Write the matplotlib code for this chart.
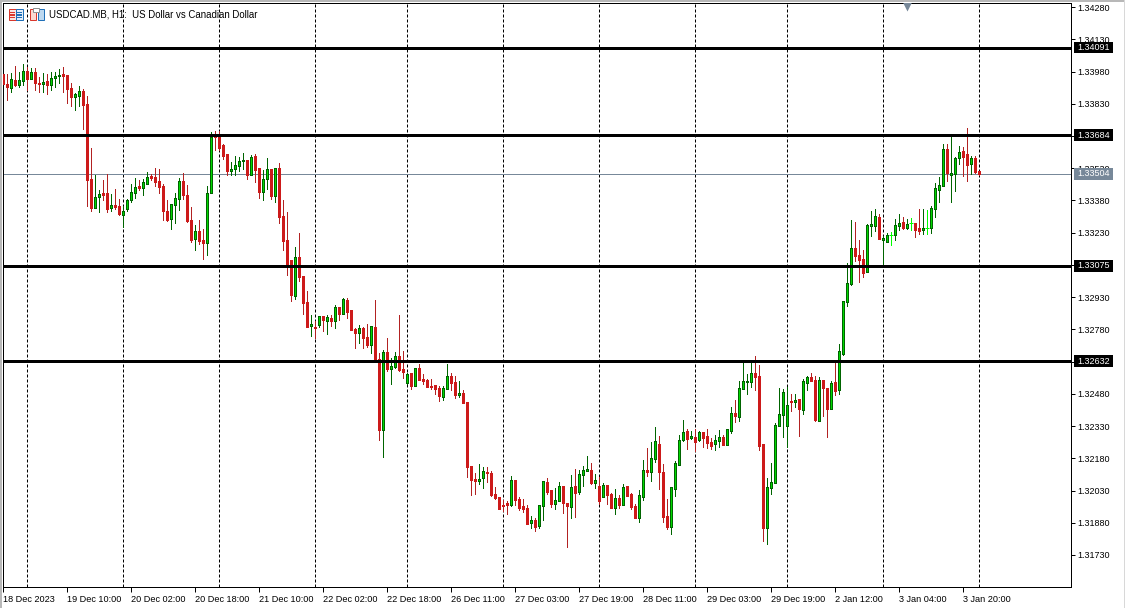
import numpy as np
import matplotlib
matplotlib.use('Agg')
import matplotlib.pyplot as plt
from matplotlib.patches import Rectangle

plt.rcParams['font.family'] = ['Liberation Sans', 'DejaVu Sans']

# H1 candles
opens = [
    1.33969,1.33923,1.33905,1.33942,1.33919,1.33937,1.33983,1.33946,1.33979,1.33928,
    1.33923,1.33937,1.33919,1.33951,1.33960,1.33969,1.33965,1.33905,1.33862,1.33867,
    1.33890,1.33830,1.33481,1.33346,1.33397,1.33416,1.33416,1.33346,1.33360,1.33355,
    1.33314,1.33341,1.33383,1.33416,1.33448,1.33439,1.33458,1.33495,1.33490,1.33472,
    1.33448,1.33332,1.33295,1.33360,1.33388,1.33472,1.33407,1.33290,1.33202,1.33239,
    1.33197,1.33183,1.33416,1.33686,1.33681,1.33639,1.33598,1.33518,1.33527,1.33542,
    1.33565,1.33569,1.33500,1.33588,1.33532,1.33420,1.33481,1.33527,1.33402,1.33532,
    1.33309,1.33197,1.33104,1.32937,1.33118,1.33030,1.32909,1.32797,1.32792,1.32802,
    1.32843,1.32820,1.32834,1.32820,1.32885,1.32852,1.32918,1.32871,1.32783,1.32764,
    1.32787,1.32746,1.32708,1.32792,1.32643,1.32313,1.32676,1.32597,1.32606,1.32657,
    1.32597,1.32532,1.32578,1.32518,1.32602,1.32550,1.32546,1.32518,1.32522,1.32509,
    1.32466,1.32504,1.32564,1.32537,1.32476,1.32485,1.32444,1.32145,1.32085,1.32076,
    1.32090,1.32118,1.32113,1.32015,1.32001,1.31964,1.31973,1.31964,1.32080,1.31992,
    1.31959,1.31950,1.31880,1.31894,1.31866,1.31959,1.32071,1.32034,1.31968,1.31982,
    1.32052,1.31973,1.31954,1.32052,1.32025,1.32104,1.32122,1.32127,1.32066,1.32052,
    1.32001,1.32057,1.32015,1.31950,1.31997,1.31964,1.32052,1.32015,1.31959,1.31903,
    1.32001,1.32127,1.32118,1.32178,1.32248,1.32118,1.31913,1.31861,1.32038,1.32150,
    1.32267,1.32308,1.32276,1.32280,1.32267,1.32304,1.32285,1.32257,1.32248,1.32262,
    1.32280,1.32243,1.32308,1.32392,1.32373,1.32504,1.32537,1.32537,1.32578,1.32564,
    1.32248,1.31857,1.32043,1.32066,1.32332,1.32383,1.32332,1.32448,1.32444,1.32458,
    1.32406,1.32532,1.32559,1.32546,1.32355,1.32546,1.32509,1.32411,1.32537,1.32499,
    1.32666,1.32909,1.32992,1.33160,1.33128,1.33109,1.33049,1.33262,1.33262,1.33304,
    1.33197,1.33188,1.33221,1.33221,1.33262,1.33281,1.33253,1.33276,1.33276,1.33253,
    1.33244,1.33253,1.33253,1.33341,1.33430,1.33448,1.33620,1.33500,1.33504,1.33579,
    1.33611,1.33598,1.33551,1.33579,1.33518]
highs = [
    1.33969,1.33969,1.33974,1.34007,1.33979,1.34016,1.34002,1.33998,1.33998,1.33955,
    1.33974,1.33969,1.33979,1.33979,1.33993,1.34002,1.33965,1.33928,1.33881,1.33914,
    1.33900,1.33867,1.33625,1.33500,1.33430,1.33476,1.33504,1.33411,1.33434,1.33388,
    1.33355,1.33388,1.33458,1.33486,1.33476,1.33481,1.33514,1.33504,1.33532,1.33527,
    1.33458,1.33383,1.33365,1.33416,1.33486,1.33509,1.33453,1.33350,1.33267,1.33290,
    1.33249,1.33448,1.33700,1.33705,1.33705,1.33644,1.33598,1.33560,1.33588,1.33583,
    1.33602,1.33569,1.33593,1.33598,1.33532,1.33523,1.33579,1.33527,1.33532,1.33555,
    1.33383,1.33328,1.33104,1.33164,1.33230,1.33030,1.32960,1.32848,1.32820,1.32843,
    1.32843,1.32848,1.32848,1.32894,1.32885,1.32927,1.32927,1.32871,1.32787,1.32802,
    1.32792,1.32806,1.32797,1.32918,1.32671,1.32685,1.32741,1.32648,1.32676,1.32848,
    1.32680,1.32578,1.32578,1.32602,1.32620,1.32574,1.32550,1.32550,1.32522,1.32518,
    1.32518,1.32620,1.32578,1.32564,1.32541,1.32499,1.32444,1.32145,1.32113,1.32155,
    1.32140,1.32140,1.32122,1.32047,1.32001,1.31987,1.31982,1.32099,1.32080,1.32001,
    1.31992,1.31964,1.31913,1.31903,1.31964,1.32076,1.32090,1.32034,1.32043,1.32071,
    1.32052,1.31973,1.32104,1.32131,1.32127,1.32145,1.32192,1.32159,1.32108,1.32094,
    1.32066,1.32057,1.32020,1.32038,1.32011,1.32061,1.32052,1.32020,1.31968,1.32034,
    1.32173,1.32229,1.32257,1.32327,1.32285,1.32155,1.31992,1.32047,1.32168,1.32290,
    1.32360,1.32318,1.32308,1.32318,1.32308,1.32304,1.32318,1.32276,1.32290,1.32313,
    1.32290,1.32318,1.32420,1.32453,1.32541,1.32625,1.32574,1.32625,1.32657,1.32616,
    1.32248,1.32090,1.32159,1.32346,1.32509,1.32504,1.32513,1.32481,1.32481,1.32458,
    1.32550,1.32564,1.32578,1.32564,1.32559,1.32546,1.32509,1.32541,1.32625,1.32713,
    1.32913,1.33090,1.33290,1.33281,1.33197,1.33151,1.33271,1.33332,1.33341,1.33318,
    1.33216,1.33230,1.33235,1.33295,1.33318,1.33304,1.33295,1.33300,1.33276,1.33341,
    1.33341,1.33337,1.33355,1.33462,1.33490,1.33644,1.33644,1.33676,1.33583,1.33635,
    1.33630,1.33719,1.33588,1.33588,1.33518]
lows = [
    1.33923,1.33849,1.33886,1.33914,1.33909,1.33919,1.33895,1.33946,1.33895,1.33886,
    1.33886,1.33876,1.33895,1.33909,1.33928,1.33886,1.33835,1.33821,1.33802,1.33821,
    1.33714,1.33355,1.33332,1.33346,1.33328,1.33383,1.33328,1.33332,1.33341,1.33314,
    1.33258,1.33332,1.33374,1.33393,1.33430,1.33407,1.33458,1.33476,1.33448,1.33416,
    1.33290,1.33285,1.33249,1.33276,1.33337,1.33388,1.33281,1.33188,1.33151,1.33179,
    1.33109,1.33128,1.33416,1.33616,1.33616,1.33574,1.33500,1.33500,1.33500,1.33518,
    1.33527,1.33481,1.33500,1.33467,1.33393,1.33383,1.33434,1.33388,1.33374,1.33276,
    1.33151,1.33035,1.32913,1.32923,1.33006,1.32852,1.32792,1.32750,1.32741,1.32792,
    1.32773,1.32760,1.32797,1.32787,1.32825,1.32852,1.32834,1.32778,1.32694,1.32718,
    1.32694,1.32699,1.32671,1.32639,1.32267,1.32187,1.32587,1.32527,1.32602,1.32587,
    1.32555,1.32527,1.32504,1.32518,1.32546,1.32527,1.32513,1.32504,1.32481,1.32448,
    1.32453,1.32504,1.32499,1.32462,1.32466,1.32439,1.32094,1.32011,1.32015,1.32061,
    1.32043,1.32071,1.32006,1.31992,1.31946,1.31936,1.31922,1.31959,1.31964,1.31941,
    1.31932,1.31875,1.31857,1.31843,1.31857,1.31894,1.32015,1.31954,1.31945,1.31982,
    1.31927,1.31768,1.31903,1.31908,1.32015,1.32052,1.32122,1.32061,1.32043,1.31968,
    1.32001,1.31968,1.31950,1.31922,1.31950,1.31964,1.32006,1.31945,1.31903,1.31885,
    1.31987,1.32099,1.32076,1.32164,1.32038,1.31885,1.31852,1.31829,1.32006,1.32150,
    1.32262,1.32225,1.32272,1.32215,1.32262,1.32234,1.32229,1.32225,1.32220,1.32234,
    1.32243,1.32243,1.32299,1.32351,1.32355,1.32504,1.32481,1.32513,1.32499,1.32220,
    1.31796,1.31782,1.32015,1.32066,1.32332,1.32280,1.32234,1.32401,1.32420,1.32285,
    1.32388,1.32499,1.32541,1.32355,1.32355,1.32378,1.32280,1.32411,1.32476,1.32481,
    1.32662,1.32890,1.32988,1.33099,1.33002,1.33025,1.33049,1.33216,1.33239,1.33202,
    1.33081,1.33188,1.33174,1.33197,1.33244,1.33248,1.33248,1.33244,1.33211,1.33225,
    1.33225,1.33225,1.33230,1.33304,1.33374,1.33448,1.33472,1.33374,1.33425,1.33551,
    1.33495,1.33472,1.33504,1.33509,1.33500]
closes = [
    1.33923,1.33909,1.33946,1.33919,1.33942,1.33983,1.33946,1.33979,1.33928,1.33923,
    1.33932,1.33919,1.33951,1.33960,1.33965,1.33960,1.33900,1.33862,1.33876,1.33890,
    1.33826,1.33476,1.33346,1.33397,1.33411,1.33407,1.33341,1.33360,1.33350,1.33318,
    1.33332,1.33383,1.33420,1.33444,1.33439,1.33467,1.33490,1.33486,1.33467,1.33444,
    1.33332,1.33290,1.33365,1.33393,1.33472,1.33407,1.33285,1.33197,1.33239,1.33193,
    1.33183,1.33416,1.33676,1.33676,1.33625,1.33588,1.33518,1.33527,1.33546,1.33565,
    1.33569,1.33500,1.33583,1.33523,1.33420,1.33481,1.33527,1.33402,1.33532,1.33304,
    1.33193,1.33076,1.32942,1.33118,1.33025,1.32904,1.32792,1.32806,1.32787,1.32843,
    1.32825,1.32839,1.32820,1.32885,1.32852,1.32923,1.32862,1.32778,1.32764,1.32787,
    1.32741,1.32708,1.32797,1.32643,1.32313,1.32676,1.32597,1.32611,1.32657,1.32592,
    1.32583,1.32574,1.32518,1.32602,1.32546,1.32541,1.32513,1.32513,1.32504,1.32471,
    1.32509,1.32564,1.32532,1.32476,1.32485,1.32439,1.32140,1.32080,1.32076,1.32085,
    1.32122,1.32113,1.32011,1.31997,1.31946,1.31959,1.31964,1.32080,1.31987,1.31950,
    1.31945,1.31875,1.31894,1.31861,1.31964,1.32076,1.32025,1.31968,1.31987,1.32052,
    1.31973,1.31959,1.32047,1.32020,1.32108,1.32127,1.32131,1.32066,1.32080,1.31982,
    1.32057,1.32011,1.31950,1.31997,1.31964,1.32047,1.32006,1.31954,1.31903,1.32011,
    1.32127,1.32118,1.32183,1.32262,1.32118,1.31908,1.31861,1.32047,1.32159,1.32267,
    1.32304,1.32272,1.32285,1.32257,1.32304,1.32276,1.32253,1.32239,1.32267,1.32280,
    1.32243,1.32318,1.32392,1.32378,1.32509,1.32541,1.32541,1.32578,1.32559,1.32239,
    1.31857,1.32047,1.32071,1.32336,1.32388,1.32490,1.32429,1.32444,1.32453,1.32411,
    1.32541,1.32559,1.32541,1.32360,1.32546,1.32509,1.32411,1.32532,1.32495,1.32680,
    1.32913,1.32997,1.33160,1.33123,1.33104,1.33044,1.33267,1.33271,1.33309,1.33202,
    1.33207,1.33221,1.33221,1.33267,1.33276,1.33253,1.33271,1.33276,1.33244,1.33239,
    1.33253,1.33253,1.33346,1.33439,1.33453,1.33620,1.33509,1.33509,1.33579,1.33607,
    1.33583,1.33546,1.33579,1.33514,1.33504]

support_levels = [1.34091, 1.33684, 1.33075, 1.32632]
last_price = 1.33504
price_ticks = [1.34280, 1.34130, 1.33980, 1.33830, 1.33680, 1.33530, 1.33380, 1.33230, 1.33080,
               1.32930, 1.32780, 1.32630, 1.32480, 1.32330, 1.32180, 1.32030, 1.31880, 1.31730]
time_tick_idx = list(range(0, 241, 16))
time_labels = ['18 Dec 2023', '19 Dec 10:00', '20 Dec 02:00', '20 Dec 18:00', '21 Dec 10:00',
               '22 Dec 02:00', '22 Dec 18:00', '26 Dec 11:00', '27 Dec 03:00', '27 Dec 19:00',
               '28 Dec 11:00', '29 Dec 03:00', '29 Dec 19:00', '2 Jan 12:00', '3 Jan 04:00',
               '3 Jan 20:00']
period_sep_idx = [6, 30, 54, 78, 101, 125, 149, 173, 196, 220, 244]

W, H = 1125, 608
fig = plt.figure(figsize=(W/100, H/100), dpi=100)
ax = fig.add_axes([3/W, 1-587.2/H, 1068/W, 584/H])

o = np.array(opens)
h = np.array(highs)
l = np.array(lows)
c = np.array(closes)
x = np.arange(len(o))
up = c > o
down = c < o
doji = c == o

px = 0.72  # one pixel in points

# separators and levels
ax.vlines(period_sep_idx, 0, 1, transform=ax.get_xaxis_transform(), color='k', lw=px,
          linestyles=(0, (3, 2)), zorder=1)
ax.axhline(last_price, color='#778899', lw=px, zorder=1.5)

# wicks
ax.vlines(x[up], l[up], h[up], color='#006400', lw=px, antialiased=False, zorder=2)
ax.vlines(x[down], l[down], h[down], color='#b22222', lw=px, antialiased=False, zorder=2)
ax.vlines(x[doji], l[doji], h[doji], color='#00ff00', lw=px, antialiased=False, zorder=2)

# bodies
ax.bar(x[up], (c-o)[up], bottom=o[up], width=0.5, color='#00d800', edgecolor='#006400',
       linewidth=px, antialiased=False, zorder=3)
ax.bar(x[down], (o-c)[down], bottom=c[down], width=0.5, color='#cd1a1a', edgecolor='#cd1a1a',
       linewidth=px, antialiased=False, zorder=3)
ax.hlines(c[doji], x[doji]-0.4, x[doji]+0.4, color='#00ff00', lw=px, zorder=3)

for lev in support_levels:
    ax.axhline(lev, color='k', lw=3*px, zorder=4)

ax.set_xlim(0, 267)
ax.set_ylim(1.31580, 1.34298)

ax.yaxis.tick_right()
ax.set_yticks(price_ticks)
ax.set_yticklabels(['%.5f' % p for p in price_ticks], fontsize=6.5)
ax.tick_params(axis='y', length=2.9, width=px, pad=1.4)
ax.set_xticks(time_tick_idx)
ax.set_xticklabels(time_labels, fontsize=6.6, ha='left')
ax.tick_params(axis='x', length=3.6, width=px, pad=2.0)
for s in ax.spines.values():
    s.set_linewidth(px)

# price labels on the right
for lev, col in [(p, 'k') for p in support_levels] + [(last_price, '#778899')]:
    ax.add_patch(Rectangle((267.75, lev-0.00027), 9.75, 0.00054, fc=col, ec='none',
                           clip_on=False, zorder=5))
    ax.text(268.7, lev, '%.5f' % lev, color='w', fontsize=6.5, va='center', ha='left', zorder=6,
            clip_on=False)

ax.plot([225.9], [1.34283], marker='v', ms=6.5, color='#778899', mec='none', clip_on=True, zorder=5)


def pixel_box(x0, y0, w, h, **kw):
    fig.add_artist(Rectangle((x0/W, 1-(y0+h)/H), w/W, h/H, transform=fig.transFigure, **kw))


# window edge
pixel_box(0, 0, W, 1.5, fc='#b8b8b8', ec='none')
pixel_box(0, 0, 1.5, H, fc='#b8b8b8', ec='none')
pixel_box(W-1, 0, 1, H, fc='#d8d8d8', ec='none')

# toolbar icons
pixel_box(8.5, 9.5, 7, 10, fc='#fbe4e0', ec='#d9372c', lw=px)
pixel_box(15.5, 9.5, 7, 10, fc='#e2eefa', ec='#2070b8', lw=px)
for yy in (12, 14.5, 17):
    pixel_box(10, yy, 4.5, 1, fc='#d9372c', ec='none')
    pixel_box(17, yy, 4.5, 1, fc='#2070b8', ec='none')
pixel_box(29.5, 9.5, 6.5, 10, fc='#fbd8d0', ec='#d9372c', lw=px)
pixel_box(37.5, 9.5, 6.5, 10, fc='#bcd8f0', ec='#2070b8', lw=px)
pixel_box(33, 8.5, 6, 3, fc='w', ec='#909090', lw=px)

fig.text(49/W, 1-14.5/H, 'USDCAD.MB, H1:  US Dollar vs Canadian Dollar', fontsize=6.95,
         va='center', ha='left')

fig.savefig('out.png', dpi=100)
